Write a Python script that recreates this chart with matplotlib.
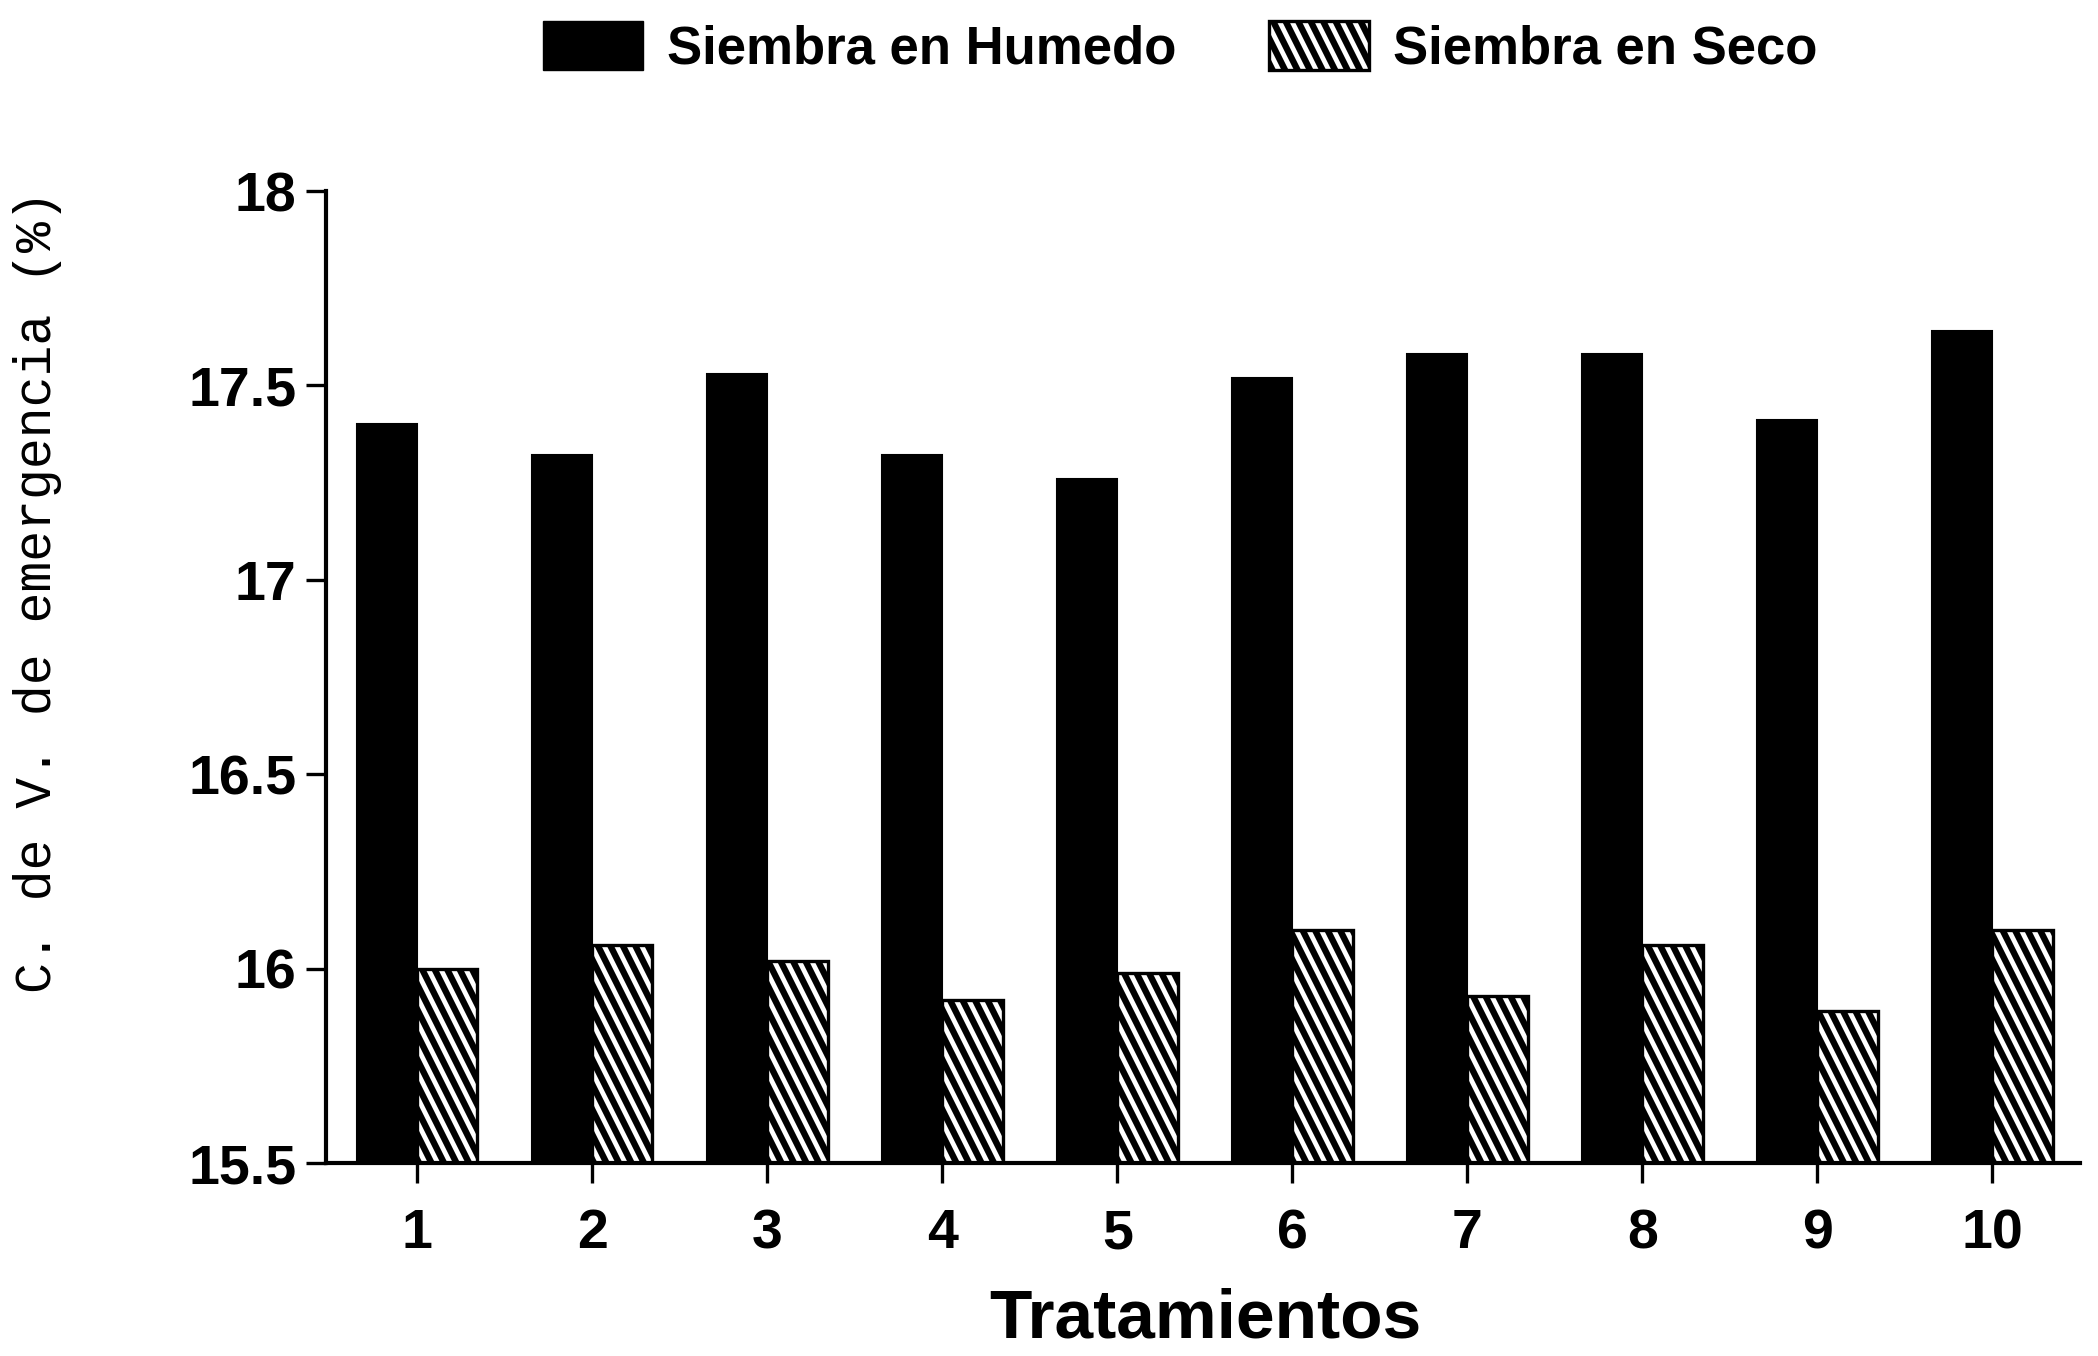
import matplotlib
matplotlib.use("Agg")
import matplotlib.pyplot as plt
import matplotlib.hatch as mhatch
from matplotlib.path import Path
import numpy as np
from matplotlib.patches import Patch

categories = ["1", "2", "3", "4", "5", "6", "7", "8", "9", "10"]
humedo = [17.40, 17.32, 17.53, 17.32, 17.26, 17.52, 17.58, 17.58, 17.41, 17.64]
seco = [16.00, 16.06, 16.02, 15.92, 15.99, 16.10, 15.93, 16.06, 15.89, 16.10]
yticks = [15.5, 16, 16.5, 17, 17.5, 18]
ytick_labels = ["15.5", "16", "16.5", "17", "17.5", "18"]
series_names = ["Siembra en Humedo", "Siembra en Seco"]


# Steeper "\" hatch (slope about 2:1) to mimic the original print hatching
class SteepSouthEastHatch(mhatch.HatchPatternBase):
    def __init__(self, hatch, density):
        cnt = hatch.count('\\')
        self.n = 4 * cnt
        self.js = np.arange(-self.n, 4 * self.n + 1) if cnt else np.array([])
        self.num_vertices = len(self.js) * 2

    def set_vertices_and_codes(self, vertices, codes):
        c = self.js / self.n
        vertices[0::2, 0] = (c - 1.0) / 2.0
        vertices[0::2, 1] = 1.0
        vertices[1::2, 0] = c / 2.0
        vertices[1::2, 1] = 0.0
        codes[0::2] = Path.MOVETO
        codes[1::2] = Path.LINETO


mhatch._hatch_types = [SteepSouthEastHatch if t is mhatch.SouthEastHatch else t
                       for t in mhatch._hatch_types]

plt.rcParams['hatch.linewidth'] = 4.6
plt.rcParams['hatch.color'] = 'black'

fig = plt.figure(figsize=(20.98, 13.56), dpi=100)
ax = fig.add_axes([0.1554, 0.1423, 0.836, 0.7168])

x = np.arange(len(categories))
w = 0.345
ax.bar(x - w / 2, humedo, width=w, color='black', edgecolor='black', linewidth=1.5)
ax.bar(x + w / 2, seco, width=w, color='white', edgecolor='black', linewidth=2.4, hatch='\\')

ax.set_ylim(15.5, 18)
ax.set_xlim(-0.52, 9.50)
ax.set_yticks(yticks)
ax.set_yticklabels(ytick_labels)
ax.set_xticks(x)
ax.set_xticklabels(categories)

for s in ['top', 'right']:
    ax.spines[s].set_visible(False)
for s in ['left', 'bottom']:
    ax.spines[s].set_linewidth(3)

ax.tick_params(axis='y', direction='out', length=14.4, width=2.4, pad=7)
ax.tick_params(axis='x', direction='out', length=14.4, width=2.4, pad=18)
for lab in ax.get_xticklabels() + ax.get_yticklabels():
    lab.set_fontfamily('Liberation Sans')
    lab.set_fontweight('bold')
    lab.set_fontsize(40)

fig.text(0.5744, 0.003, "Tratamientos", ha='center', va='bottom',
         family='Liberation Sans', weight='bold', size=50)
fig.text(0.006, 0.564, "C. de V. de emergencia (%)", rotation=90, ha='left', va='center',
         family='Liberation Mono', size=37)

handles = [Patch(facecolor='black', edgecolor='black'),
           Patch(facecolor='white', edgecolor='black', hatch='\\', linewidth=2.4)]
leg = fig.legend(handles, series_names, loc='center', bbox_to_anchor=(0.5624, 0.965),
                 ncol=2, frameon=False, handlelength=1.9, handleheight=1.05,
                 handletextpad=0.45, columnspacing=1.75,
                 prop=dict(family='Liberation Sans', weight='bold', size=38))

fig.savefig("out.png", dpi=100, facecolor='white')
